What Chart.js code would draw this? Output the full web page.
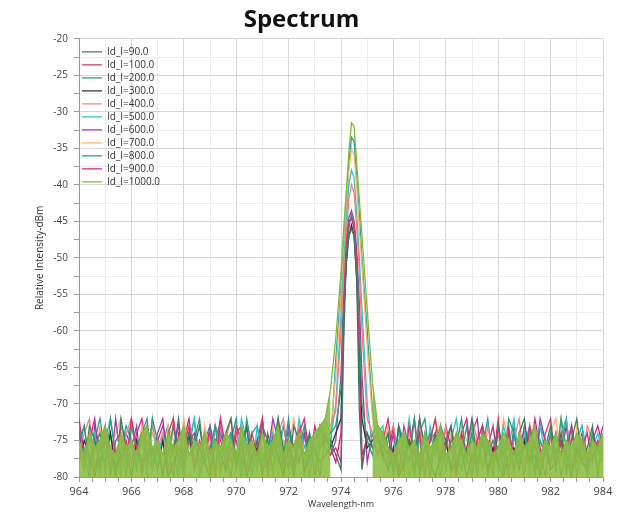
<!DOCTYPE html>
<html>
<head>
<meta charset="utf-8">
<title>Spectrum</title>
<script src="https://cdn.jsdelivr.net/npm/chart.js@4.4.1/dist/chart.umd.min.js"></script>
<style>
  html, body { margin: 0; padding: 0; background: #fff; }
  #wrap { width: 630px; height: 514px; }
</style>
</head>
<body>
<div id="wrap"><canvas id="spectrumChart" width="630" height="514"></canvas></div>
<script>
// wavelength grid (nm): 0.2 nm steps, finer around the lasing peak
const wavelength = [
  964.0, 964.2, 964.4, 964.6, 964.8, 965.0, 965.2, 965.4,
  965.6, 965.8, 966.0, 966.2, 966.4, 966.6, 966.8, 967.0,
  967.2, 967.4, 967.6, 967.8, 968.0, 968.2, 968.4, 968.6,
  968.8, 969.0, 969.2, 969.4, 969.6, 969.8, 970.0, 970.2,
  970.4, 970.6, 970.8, 971.0, 971.2, 971.4, 971.6, 971.8,
  972.0, 972.2, 972.4, 972.6, 972.8, 973.0, 973.2, 973.4,
  973.6, 973.8, 974.0, 974.1, 974.2, 974.3, 974.4, 974.5, 974.6, 974.7, 974.8, 975.0, 975.2, 975.4,
  975.6, 975.8, 976.0, 976.2, 976.4, 976.6, 976.8, 977.0,
  977.2, 977.4, 977.6, 977.8, 978.0, 978.2, 978.4, 978.6,
  978.8, 979.0, 979.2, 979.4, 979.6, 979.8, 980.0, 980.2,
  980.4, 980.6, 980.8, 981.0, 981.2, 981.4, 981.6, 981.8,
  982.0, 982.2, 982.4, 982.6, 982.8, 983.0, 983.2, 983.4,
  983.6, 983.8, 984.0
];

const currents = ["90.0", "100.0", "200.0", "300.0", "400.0", "500.0", "600.0", "700.0", "800.0", "900.0", "1000.0"];
const lineColors = ["#3b7a5e", "#d6336c", "#2a9d7a", "#2b2d42", "#f08080", "#2ec4c6", "#9c3fa0", "#f6b26b", "#1e9e9e", "#d81b8a", "#82b83c"];

// relative intensity (dBm) per drive current
const id90 = [
  -76,-79,-73,-75,-78,-74,-77,-80,
  -72,-76,-75,-79,-74,-73,-78,-76,
  -80,-75,-77,-72,-79,-74,-76,-73,
  -78,-80,-75,-77,-74,-72,-79,-76,
  -73,-78,-75,-80,-74,-77,-72,-76,
  -79,-73,-75,-78,-74,-80,-76,-75,
  -75,-77,-79,-62,-50,-47,-46,-47,-53,-71,-79,-74,-76,-75,
  -76,-74,-80,-73,-77,-75,-79,-72,
  -76,-78,-74,-80,-75,-73,-77,-79,
  -76,-72,-78,-74,-75,-80,-73,-77,
  -76,-79,-74,-72,-78,-75,-80,-76,
  -73,-77,-74,-79,-75,-72,-78,-76,
  -73,-80,-75
];
const id100 = [
  -72,-77,-74,-79,-76,-73,-80,-75,
  -74,-78,-72,-76,-79,-73,-77,-75,
  -80,-74,-72,-78,-76,-73,-79,-75,
  -77,-74,-80,-72,-76,-78,-73,-75,
  -79,-74,-77,-72,-80,-76,-73,-78,
  -75,-79,-74,-72,-77,-76,-80,-74,
  -77,-76,-78,-58,-48,-45,-44.5,-45.5,-50,-66,-78,-74,-76,-75,
  -75,-72,-78,-76,-79,-73,-77,-74,
  -80,-75,-72,-78,-76,-73,-79,-74,
  -77,-80,-75,-73,-76,-78,-72,-79,
  -74,-77,-75,-80,-73,-76,-78,-74,
  -72,-79,-75,-77,-73,-80,-76,-74,
  -78,-75,-77
];
const id200 = [
  -75,-73,-78,-76,-74,-79,-72,-77,
  -75,-80,-73,-76,-74,-78,-72,-75,
  -79,-77,-73,-76,-80,-74,-75,-72,
  -78,-76,-73,-79,-75,-74,-77,-80,
  -72,-76,-78,-73,-75,-79,-74,-77,
  -72,-80,-76,-73,-78,-75,-74,-72,
  -74,-73,-68,-57,-50,-46,-44,-45.5,-51,-60,-70,-75,-77,-73,
  -74,-76,-79,-73,-75,-78,-72,-80,
  -76,-74,-77,-73,-79,-75,-76,-72,
  -78,-74,-80,-73,-77,-75,-76,-79,
  -72,-74,-78,-76,-73,-80,-75,-77,
  -74,-79,-72,-76,-73,-78,-75,-80,
  -74,-77,-76
];
const id300 = [
  -78,-75,-77,-80,-76,-78,-74,-79,
  -77,-76,-80,-75,-78,-77,-76,-79,
  -75,-80,-78,-76,-77,-74,-79,-76,
  -78,-80,-75,-77,-79,-76,-78,-75,
  -80,-77,-76,-79,-78,-75,-77,-80,
  -76,-78,-74,-79,-77,-76,-78,-77,
  -76,-74,-72,-58,-51,-47,-45.5,-47,-53,-62,-72,-76,-75,-74,
  -77,-79,-76,-80,-78,-75,-77,-79,
  -76,-78,-80,-77,-75,-79,-78,-76,
  -80,-77,-78,-75,-79,-76,-78,-80,
  -77,-76,-79,-75,-78,-77,-80,-76,
  -79,-78,-75,-77,-80,-76,-78,-79,
  -77,-76,-78
];
const id400 = [
  -77,-74,-72,-79,-75,-73,-78,-76,
  -80,-74,-72,-77,-75,-79,-73,-76,
  -74,-80,-72,-78,-75,-73,-77,-79,
  -74,-76,-80,-73,-75,-72,-78,-74,
  -77,-76,-79,-73,-75,-80,-74,-72,
  -78,-76,-73,-77,-75,-79,-74,-73,
  -73,-71,-60,-53,-47,-42,-40,-41,-46,-52,-60,-72,-74,-75,
  -78,-75,-73,-77,-74,-80,-76,-72,
  -79,-74,-75,-77,-73,-80,-76,-74,
  -78,-72,-75,-79,-73,-77,-74,-76,
  -80,-75,-72,-78,-74,-73,-79,-76,
  -75,-77,-72,-80,-74,-76,-78,-73,
  -75,-79,-74
];
const id500 = [
  -73,-76,-78,-74,-80,-75,-72,-77,
  -79,-74,-73,-76,-75,-80,-72,-78,
  -74,-77,-73,-79,-76,-75,-72,-80,
  -74,-78,-73,-76,-77,-74,-79,-72,
  -75,-80,-73,-77,-76,-74,-78,-73,
  -75,-79,-72,-76,-74,-77,-75,-73,
  -75,-70,-58,-51,-45,-40,-38,-39,-44,-50,-57,-70,-76,-74,
  -73,-79,-76,-74,-78,-72,-77,-75,
  -80,-73,-76,-74,-79,-75,-72,-78,
  -76,-73,-80,-74,-77,-75,-79,-73,
  -76,-72,-78,-74,-80,-75,-73,-77,
  -76,-79,-74,-72,-78,-75,-73,-80,
  -76,-74,-77
];
const id600 = [
  -74,-77,-80,-73,-76,-75,-79,-72,
  -78,-74,-76,-73,-80,-75,-77,-74,
  -72,-79,-76,-73,-78,-75,-74,-80,
  -77,-73,-76,-72,-79,-74,-75,-78,
  -73,-80,-76,-74,-77,-72,-75,-79,
  -73,-76,-78,-74,-80,-75,-73,-76,
  -77,-75,-66,-55,-48,-44.5,-43.5,-45,-49,-56,-66,-78,-74,-73,
  -75,-78,-74,-80,-73,-76,-77,-72,
  -79,-75,-74,-78,-73,-76,-80,-75,
  -77,-74,-72,-79,-76,-73,-78,-75,
  -80,-74,-77,-73,-76,-79,-72,-75,
  -78,-74,-80,-76,-73,-77,-75,-79,
  -74,-76,-73
];
const id700 = [
  -75,-79,-74,-77,-73,-80,-76,-74,
  -72,-78,-75,-77,-73,-79,-74,-76,
  -80,-73,-75,-78,-72,-76,-74,-79,
  -73,-77,-75,-80,-74,-72,-78,-76,
  -73,-75,-79,-74,-77,-73,-80,-75,
  -76,-72,-78,-74,-75,-79,-73,-74,
  -74,-66,-55,-49,-43,-38,-35,-36,-40,-46,-51,-62,-72,-74,
  -76,-73,-78,-75,-80,-74,-77,-73,
  -79,-75,-72,-76,-78,-74,-80,-73,
  -75,-77,-74,-79,-76,-73,-78,-72,
  -75,-80,-74,-76,-73,-79,-75,-77,
  -74,-72,-78,-76,-80,-73,-75,-77,
  -74,-79,-75
];
const id800 = [
  -76,-73,-79,-75,-72,-77,-74,-80,
  -76,-73,-75,-78,-74,-72,-79,-76,
  -75,-73,-77,-80,-74,-76,-72,-78,
  -75,-73,-79,-74,-77,-75,-72,-80,
  -76,-74,-73,-78,-75,-77,-72,-79,
  -74,-76,-73,-80,-75,-77,-73,-75,
  -76,-64,-54,-48,-42,-37,-33.5,-34,-39,-44,-50,-60,-71,-75,
  -77,-74,-79,-73,-76,-75,-80,-74,
  -72,-78,-76,-73,-75,-79,-74,-77,
  -73,-80,-75,-76,-72,-78,-74,-75,
  -79,-73,-77,-76,-74,-80,-73,-75,
  -78,-74,-76,-72,-79,-75,-73,-77,
  -74,-76,-75
];
const id900 = [
  -73,-78,-75,-72,-79,-74,-76,-80,
  -73,-75,-78,-74,-72,-77,-79,-75,
  -73,-76,-80,-74,-75,-72,-78,-76,
  -74,-79,-73,-75,-77,-80,-74,-73,
  -76,-78,-75,-72,-79,-74,-76,-73,
  -77,-80,-75,-74,-78,-73,-76,-74,
  -76,-78,-74,-56,-48,-45,-44.5,-46,-50,-60,-77,-75,-74,-77,
  -74,-77,-73,-79,-75,-76,-72,-78,
  -74,-80,-75,-73,-77,-76,-79,-74,
  -72,-78,-75,-73,-80,-76,-74,-77,
  -73,-79,-75,-74,-78,-72,-76,-80,
  -74,-75,-77,-73,-79,-76,-74,-78,
  -75,-73,-76
];
const id1000 = [
  -75,-77,-74,-76,-75,-73,-76,-77,
  -74,-76,-75,-77,-74,-73,-76,-75,
  -77,-74,-76,-75,-73,-77,-75,-76,
  -74,-77,-75,-76,-74,-75,-77,-73,
  -76,-75,-77,-74,-76,-75,-73,-77,
  -75,-76,-74,-77,-75,-74,-73,-72,
  -68,-61,-52,-46,-41,-35.5,-31.5,-32,-37,-42,-47,-57,-67,-73,
  -74,-76,-77,-75,-74,-76,-75,-77,
  -74,-76,-75,-73,-77,-76,-74,-75,
  -77,-75,-76,-74,-75,-77,-76,-74,
  -75,-77,-74,-76,-75,-73,-77,-75,
  -76,-74,-77,-75,-76,-74,-75,-77,
  -75,-76,-74
];
const intensities = [id90, id100, id200, id300, id400, id500, id600, id700, id800, id900, id1000];

// peak region where the dense noise floor is not filled
const peakFrom = 973.5, peakTo = 975.3;

Chart.defaults.font.family = "'Open Sans', 'DejaVu Sans', sans-serif";
Chart.defaults.color = "#444";

const datasets = currents.map((c, i) => {
  const last = i === currents.length - 1;
  return {
    label: "Id_I=" + c,
    data: wavelength.map((w, k) => ({ x: w, y: intensities[i][k] })),
    borderColor: lineColors[i],
    backgroundColor: last ? "rgba(140, 191, 69, 0.9)" : lineColors[i],
    borderWidth: 1.3,
    pointRadius: 0,
    tension: 0,
    order: last ? 0 : 1,  // the 1000 mA trace sits on top of the others
    fill: last ? "start" : false,
    segment: last ? {
      backgroundColor: ctx => (ctx.p0.parsed.x >= peakFrom && ctx.p1.parsed.x <= peakTo) ? "rgba(0,0,0,0)" : undefined
    } : undefined
  };
});

function gridColor(ctx, major, minor) {
  const v = ctx.tick ? ctx.tick.value : 0;
  if (Math.abs(v % major) < 1e-6) return "#d6d6d6";
  if (Math.abs(v % minor) < 1e-6) return "#ececec";
  return "rgba(0,0,0,0)";
}

const ctx = document.getElementById("spectrumChart").getContext("2d");
new Chart(ctx, {
  type: "line",
  data: { datasets },
  options: {
    responsive: false,
    animation: false,
    layout: { padding: { left: 0, right: 27, top: 0, bottom: 0 } },
    plugins: {
      title: {
        display: true,
        text: "Spectrum",
        color: "#111",
        font: { size: 24, weight: "bold" },
        padding: { top: 6, bottom: 4 }
      },
      legend: {
        position: "chartArea",
        align: "start",
        // empty title only pushes the list down inside the plot
        title: { display: true, text: "", font: { size: 4 }, padding: { top: 39, bottom: 0 } },
        labels: {
          usePointStyle: true,
          pointStyle: "line",
          pointStyleWidth: 20,
          boxHeight: 10,
          padding: 3,
          color: "#333",
          font: { size: 10 },
          sort: (a, b) => a.datasetIndex - b.datasetIndex
        }
      },
      tooltip: { enabled: false }
    },
    scales: {
      x: {
        type: "linear",
        min: 964,
        max: 984,
        afterFit: s => { s.height = 37; },
        border: { color: "#999" },
        grid: {
          color: c => gridColor(c, 2, 1),
          tickColor: "#999",
          tickLength: 5
        },
        ticks: {
          stepSize: 0.5,
          autoSkip: false,
          maxRotation: 0,
          padding: 3,
          font: { size: 11 },
          callback: v => (Math.abs(v % 2) < 1e-6 ? v : "")
        },
        title: {
          display: true,
          text: "Wavelength-nm",
          color: "#333",
          font: { size: 9 },
          padding: { top: 0, bottom: 4 }
        }
      },
      y: {
        min: -80,
        max: -20,
        afterFit: s => { s.width = 79; },
        border: { color: "#999" },
        grid: {
          color: c => gridColor(c, 5, 2.5),
          tickColor: "#999",
          tickLength: 5
        },
        ticks: {
          stepSize: 2.5,
          autoSkip: false,
          padding: 6,
          font: { size: 10 },
          callback: v => (Math.abs(v % 5) < 1e-6 ? v : "")
        },
        title: {
          display: true,
          text: "Relative Intensity-dBm",
          color: "#333",
          font: { size: 10 },
          padding: { top: 34, bottom: 0 }
        }
      }
    }
  }
});
</script>
</body>
</html>
